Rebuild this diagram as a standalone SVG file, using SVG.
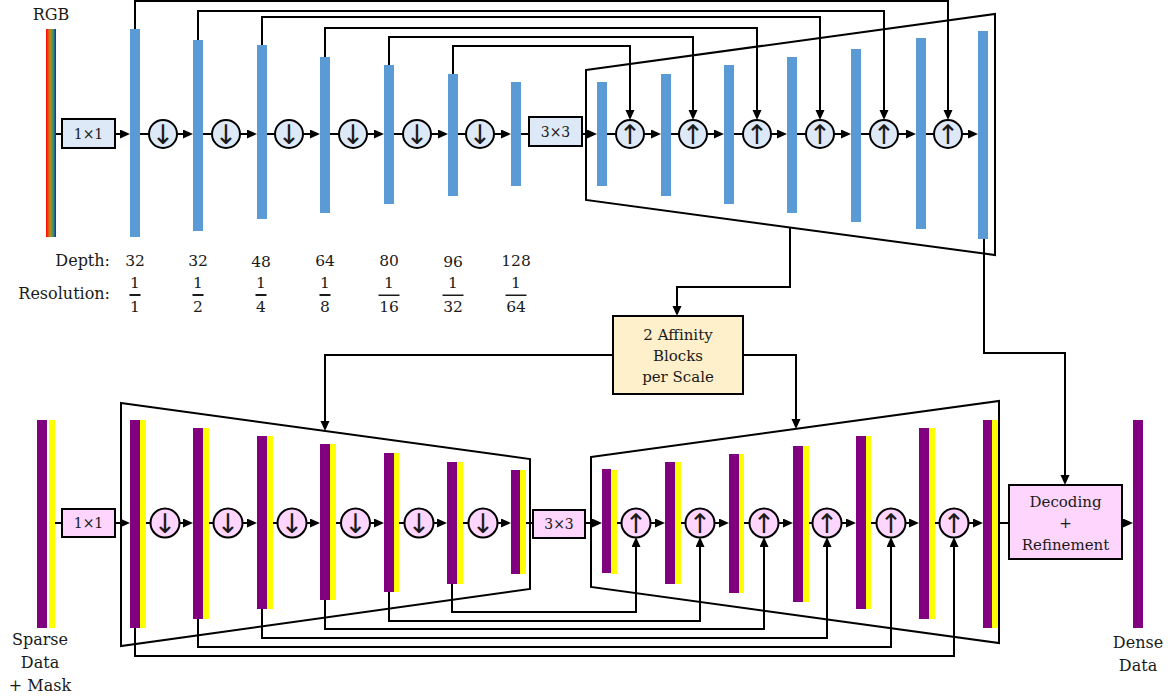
<svg xmlns="http://www.w3.org/2000/svg" width="1168" height="698" viewBox="0 0 1168 698">
<style>
.blue{fill:#5b9bd5}
.pur{fill:#800080}
.yel{fill:#ffff00}
.bx{stroke:#000;stroke-width:2}
.lb{fill:#dde9f6}
.pk{fill:#fdd5fd}
.af{fill:#fdf0cb}
.trap{fill:none;stroke:#000;stroke-width:2;stroke-linejoin:miter}
.ln{fill:none;stroke:#000;stroke-width:2}
.ar{marker-end:url(#ah)}
.t{font-family:'DejaVu Serif','Liberation Serif',serif;fill:#1a1a1a}
.lab{font-size:16px}
.num{font-size:15.5px;text-anchor:middle}
.bt{font-size:14px;text-anchor:middle}
.mt{font-size:15px;text-anchor:middle}
.sym{font-size:27px;text-anchor:middle;font-family:'DejaVu Sans',sans-serif;fill:#1a1a1a}
.fr{fill:#1a1a1a}
</style>
<defs>
<marker id="ah" markerUnits="userSpaceOnUse" markerWidth="11" markerHeight="10" refX="1" refY="4.5" orient="auto">
<path d="M0,0 L10,4.5 L0,9 z" fill="#000"/>
</marker>
<linearGradient id="rb" x1="0" y1="0" x2="1" y2="0">
<stop offset="0" stop-color="#ff0000"/>
<stop offset="0.2" stop-color="#e84a10"/>
<stop offset="0.4" stop-color="#c8861c"/>
<stop offset="0.6" stop-color="#5aa03c"/>
<stop offset="0.8" stop-color="#2e7a8c"/>
<stop offset="1" stop-color="#1c1caa"/>
</linearGradient>
</defs>

<!-- trapezoids -->
<g id="top-decoder-frame"><polygon class="trap" points="586,70 995,14 995,255 586,200"/></g>
<g id="bottom-encoder-frame"><polygon class="trap" points="121,403 530,459 530,589 121,646"/></g>
<g id="bottom-decoder-frame"><polygon class="trap" points="591,457 999,401 999,643 591,587"/></g>

<!-- connectors -->
<g id="connectors">
<path class="ln" d="M56,134 H62"/>
<path class="ln ar" d="M115,134 H121"/>
<path class="ln" d="M140,134 H149"/><path class="ln ar" d="M177,134 H184"/>
<path class="ln" d="M203,134 H212"/><path class="ln ar" d="M240,134 H248"/>
<path class="ln" d="M267,134 H275"/><path class="ln ar" d="M303,134 H311"/>
<path class="ln" d="M330,134 H339"/><path class="ln ar" d="M367,134 H375"/>
<path class="ln" d="M394,134 H403"/><path class="ln ar" d="M431,134 H439"/>
<path class="ln" d="M458,134 H466"/><path class="ln ar" d="M494,134 H502"/>
<path class="ln" d="M521,134 H529"/>
<path class="ln ar" d="M582,134 H588"/>
<path class="ln" d="M607,134 H616"/><path class="ln ar" d="M644,134 H652"/>
<path class="ln" d="M671,134 H679"/><path class="ln ar" d="M707,134 H715"/>
<path class="ln" d="M734,134 H743"/><path class="ln ar" d="M771,134 H778"/>
<path class="ln" d="M797,134 H806"/><path class="ln ar" d="M834,134 H842"/>
<path class="ln" d="M861,134 H870"/><path class="ln ar" d="M898,134 H907"/>
<path class="ln" d="M926,134 H934"/><path class="ln ar" d="M962,134 H969"/>
<path class="ln ar" d="M135,29 V1 H948 V111"/>
<path class="ln ar" d="M198,40 V11 H884 V111"/>
<path class="ln ar" d="M262,45 V17 H820 V111"/>
<path class="ln ar" d="M325,57 V28 H757 V111"/>
<path class="ln ar" d="M389,65 V37 H693 V111"/>
<path class="ln ar" d="M453,74 V46 H630 V111"/>
<path class="ln ar" d="M790,228 V287 H677 V307"/>
<path class="ln ar" d="M613,355 H325 V422"/>
<path class="ln ar" d="M743,355 H796 V420"/>
<path class="ln ar" d="M984,239 V353 H1065 V476"/>
<path class="ln" d="M55,523 H62"/>
<path class="ln ar" d="M115,523 H121"/>
<path class="ln" d="M146,523 H151"/><path class="ln ar" d="M179,523 H184"/>
<path class="ln" d="M209,523 H214"/><path class="ln ar" d="M242,523 H248"/>
<path class="ln" d="M272,523 H278"/><path class="ln ar" d="M306,523 H311"/>
<path class="ln" d="M336,523 H341"/><path class="ln ar" d="M370,523 H375"/>
<path class="ln" d="M399,523 H405"/><path class="ln ar" d="M433,523 H438"/>
<path class="ln" d="M463,523 H469"/><path class="ln ar" d="M497,523 H502"/>
<path class="ln" d="M526,523 H533"/>
<path class="ln ar" d="M585,523 H593"/>
<path class="ln" d="M612,523 H622"/><path class="ln ar" d="M650,523 H656"/>
<path class="ln" d="M675,523 H686"/><path class="ln ar" d="M714,523 H720"/>
<path class="ln" d="M739,523 H750"/><path class="ln ar" d="M778,523 H784"/>
<path class="ln" d="M803,523 H813"/><path class="ln ar" d="M841,523 H847"/>
<path class="ln" d="M866,523 H877"/><path class="ln ar" d="M905,523 H910"/>
<path class="ln" d="M929,523 H940"/><path class="ln ar" d="M968,523 H974"/>
<path class="ln" d="M993,523 H1009"/>
<path class="ln ar" d="M1122,523 H1124"/>
<path class="ln ar" d="M452,584 V612 H636 V546"/>
<path class="ln ar" d="M389,592 V621 H700 V546"/>
<path class="ln ar" d="M325,600 V629 H764 V546"/>
<path class="ln ar" d="M262,609 V638 H827 V546"/>
<path class="ln ar" d="M198,619 V647 H891 V546"/>
<path class="ln ar" d="M135,628 V656 H954 V546"/>
</g>

<!-- top row nodes -->
<g id="rgb-input"><rect x="46" y="29" width="10" height="208" fill="url(#rb)"/><text class="t lab" x="51" y="20" text-anchor="middle">RGB</text></g>
<g id="top-conv1x1"><rect class="bx lb" x="62" y="119" width="53" height="29"/><text class="t bt" x="88.5" y="139">1×1</text></g>
<g id="top-enc1"><rect class="blue" x="130" y="29" width="10" height="208"/></g>
<g id="top-enc2"><rect class="blue" x="193" y="40" width="10" height="191"/></g>
<g id="top-enc3"><rect class="blue" x="257" y="45" width="10" height="174"/></g>
<g id="top-enc4"><rect class="blue" x="320" y="57" width="10" height="156"/></g>
<g id="top-enc5"><rect class="blue" x="384" y="65" width="10" height="139"/></g>
<g id="top-enc6"><rect class="blue" x="448" y="74" width="10" height="122"/></g>
<g id="top-enc7"><rect class="blue" x="511" y="82" width="10" height="104"/></g>
<g id="top-down1"><circle class="bx lb" cx="163" cy="134" r="14"/><text class="sym" x="163" y="144">↓</text></g>
<g id="top-down2"><circle class="bx lb" cx="226" cy="134" r="14"/><text class="sym" x="226" y="144">↓</text></g>
<g id="top-down3"><circle class="bx lb" cx="289" cy="134" r="14"/><text class="sym" x="289" y="144">↓</text></g>
<g id="top-down4"><circle class="bx lb" cx="353" cy="134" r="14"/><text class="sym" x="353" y="144">↓</text></g>
<g id="top-down5"><circle class="bx lb" cx="417" cy="134" r="14"/><text class="sym" x="417" y="144">↓</text></g>
<g id="top-down6"><circle class="bx lb" cx="480" cy="134" r="14"/><text class="sym" x="480" y="144">↓</text></g>
<g id="top-conv3x3"><rect class="bx lb" x="529" y="117" width="53" height="29"/><text class="t bt" x="555.5" y="137">3×3</text></g>
<g id="top-dec1"><rect class="blue" x="597" y="82" width="10" height="104"/></g>
<g id="top-dec2"><rect class="blue" x="661" y="74" width="10" height="122"/></g>
<g id="top-dec3"><rect class="blue" x="724" y="65" width="10" height="139"/></g>
<g id="top-dec4"><rect class="blue" x="787" y="57" width="10" height="156"/></g>
<g id="top-dec5"><rect class="blue" x="851" y="49" width="10" height="173"/></g>
<g id="top-dec6"><rect class="blue" x="916" y="38" width="10" height="191"/></g>
<g id="top-dec7"><rect class="blue" x="978" y="31" width="10" height="208"/></g>
<g id="top-up1"><circle class="bx lb" cx="630" cy="134" r="14"/><text class="sym" x="630" y="144">↑</text></g>
<g id="top-up2"><circle class="bx lb" cx="693" cy="134" r="14"/><text class="sym" x="693" y="144">↑</text></g>
<g id="top-up3"><circle class="bx lb" cx="757" cy="134" r="14"/><text class="sym" x="757" y="144">↑</text></g>
<g id="top-up4"><circle class="bx lb" cx="820" cy="134" r="14"/><text class="sym" x="820" y="144">↑</text></g>
<g id="top-up5"><circle class="bx lb" cx="884" cy="134" r="14"/><text class="sym" x="884" y="144">↑</text></g>
<g id="top-up6"><circle class="bx lb" cx="948" cy="134" r="14"/><text class="sym" x="948" y="144">↑</text></g>

<g id="depth-resolution">
<text class="t lab" x="110" y="266" text-anchor="end">Depth:</text>
<text class="t lab" x="110" y="299" text-anchor="end">Resolution:</text>
<text class="t num" x="135" y="266">32</text>
<text class="t num" x="198" y="266">32</text>
<text class="t num" x="261" y="267">48</text>
<text class="t num" x="325" y="266">64</text>
<text class="t num" x="389" y="266">80</text>
<text class="t num" x="453" y="267">96</text>
<text class="t num" x="516" y="266">128</text>
<text class="t num" x="135" y="288">1</text><rect class="fr" x="129.5" y="294" width="11" height="2"/><text class="t num" x="135" y="312">1</text>
<text class="t num" x="198" y="288">1</text><rect class="fr" x="192.5" y="294" width="11" height="2"/><text class="t num" x="198" y="312">2</text>
<text class="t num" x="261" y="288">1</text><rect class="fr" x="255.5" y="294" width="11" height="2"/><text class="t num" x="261" y="312">4</text>
<text class="t num" x="325" y="288">1</text><rect class="fr" x="319.5" y="294" width="11" height="2"/><text class="t num" x="325" y="312">8</text>
<text class="t num" x="389" y="288">1</text><rect class="fr" x="378.5" y="294.5" width="21" height="1.5"/><text class="t num" x="389" y="312">16</text>
<text class="t num" x="453" y="288">1</text><rect class="fr" x="442.5" y="294.5" width="21" height="1.5"/><text class="t num" x="453" y="312">32</text>
<text class="t num" x="516" y="288">1</text><rect class="fr" x="505.5" y="294.5" width="21" height="1.5"/><text class="t num" x="516" y="312">64</text>
</g>

<g id="affinity-blocks"><rect class="bx af" x="613" y="316" width="130" height="78"/>
<text class="t mt" x="678" y="340">2 Affinity</text><text class="t mt" x="678" y="361">Blocks</text><text class="t mt" x="678" y="382">per Scale</text></g>

<g id="sparse-input"><rect class="pur" x="37" y="420" width="10" height="208"/><rect class="yel" x="49" y="420" width="6" height="208"/>
<text class="t lab" x="40" y="645" text-anchor="middle">Sparse</text><text class="t lab" x="40" y="668" text-anchor="middle">Data</text><text class="t lab" x="40" y="691" text-anchor="middle">+ Mask</text></g>
<g id="bot-conv1x1"><rect class="bx pk" x="62" y="509" width="53" height="28"/><text class="t bt" x="88.5" y="528">1×1</text></g>
<g id="bot-enc1"><rect class="pur" x="130" y="420" width="10" height="208"/><rect class="yel" x="140" y="420" width="6" height="208"/></g>
<g id="bot-enc2"><rect class="pur" x="193" y="428" width="10" height="191"/><rect class="yel" x="203" y="428" width="6" height="191"/></g>
<g id="bot-enc3"><rect class="pur" x="257" y="436" width="10" height="173"/><rect class="yel" x="267" y="436" width="6" height="173"/></g>
<g id="bot-enc4"><rect class="pur" x="320" y="444" width="10" height="156"/><rect class="yel" x="330" y="444" width="6" height="156"/></g>
<g id="bot-enc5"><rect class="pur" x="384" y="453" width="10" height="139"/><rect class="yel" x="394" y="453" width="5" height="139"/></g>
<g id="bot-enc6"><rect class="pur" x="447" y="462" width="10" height="122"/><rect class="yel" x="457" y="462" width="6" height="122"/></g>
<g id="bot-enc7"><rect class="pur" x="511" y="470" width="9" height="104"/><rect class="yel" x="520" y="470" width="6" height="104"/></g>
<g id="bot-down1"><circle class="bx pk" cx="165" cy="523" r="14.5"/><text class="sym" x="165" y="533">↓</text></g>
<g id="bot-down2"><circle class="bx pk" cx="228" cy="523" r="14.5"/><text class="sym" x="228" y="533">↓</text></g>
<g id="bot-down3"><circle class="bx pk" cx="292" cy="523" r="14.5"/><text class="sym" x="292" y="533">↓</text></g>
<g id="bot-down4"><circle class="bx pk" cx="355.5" cy="523" r="14.5"/><text class="sym" x="355.5" y="533">↓</text></g>
<g id="bot-down5"><circle class="bx pk" cx="419" cy="523" r="14.5"/><text class="sym" x="419" y="533">↓</text></g>
<g id="bot-down6"><circle class="bx pk" cx="483" cy="523" r="14.5"/><text class="sym" x="483" y="533">↓</text></g>
<g id="bot-conv3x3"><rect class="bx pk" x="533" y="510" width="52" height="28"/><text class="t bt" x="559" y="529">3×3</text></g>
<g id="bot-dec1"><rect class="pur" x="602" y="469" width="9" height="104"/><rect class="yel" x="611" y="470" width="6" height="104"/></g>
<g id="bot-dec2"><rect class="pur" x="665" y="462" width="10" height="122"/><rect class="yel" x="675" y="462" width="6" height="122"/></g>
<g id="bot-dec3"><rect class="pur" x="729" y="454" width="10" height="139"/><rect class="yel" x="739" y="454" width="5" height="139"/></g>
<g id="bot-dec4"><rect class="pur" x="793" y="446" width="10" height="156"/><rect class="yel" x="803" y="446" width="6" height="156"/></g>
<g id="bot-dec5"><rect class="pur" x="856" y="436" width="10" height="173"/><rect class="yel" x="866" y="436" width="5" height="173"/></g>
<g id="bot-dec6"><rect class="pur" x="919" y="428" width="10" height="191"/><rect class="yel" x="929" y="428" width="6" height="191"/></g>
<g id="bot-dec7"><rect class="pur" x="983" y="420" width="9" height="208"/><rect class="yel" x="992" y="420" width="6" height="208"/></g>
<g id="bot-up1"><circle class="bx pk" cx="636" cy="523" r="14.5"/><text class="sym" x="636" y="533">↑</text></g>
<g id="bot-up2"><circle class="bx pk" cx="700" cy="523" r="14.5"/><text class="sym" x="700" y="533">↑</text></g>
<g id="bot-up3"><circle class="bx pk" cx="764" cy="523" r="14.5"/><text class="sym" x="764" y="533">↑</text></g>
<g id="bot-up4"><circle class="bx pk" cx="827" cy="523" r="14.5"/><text class="sym" x="827" y="533">↑</text></g>
<g id="bot-up5"><circle class="bx pk" cx="891" cy="523" r="14.5"/><text class="sym" x="891" y="533">↑</text></g>
<g id="bot-up6"><circle class="bx pk" cx="954" cy="523" r="14.5"/><text class="sym" x="954" y="533">↑</text></g>
<g id="decoding-refinement"><rect class="bx pk" x="1009" y="485" width="113" height="74"/>
<text class="t mt" x="1065.5" y="507">Decoding</text><text class="t mt" x="1065.5" y="528">+</text><text class="t mt" x="1065.5" y="550">Refinement</text></g>
<g id="dense-output"><rect class="pur" x="1133" y="420" width="10" height="208"/>
<text class="t lab" x="1138" y="648" text-anchor="middle">Dense</text><text class="t lab" x="1138" y="671" text-anchor="middle">Data</text></g>
</svg>
